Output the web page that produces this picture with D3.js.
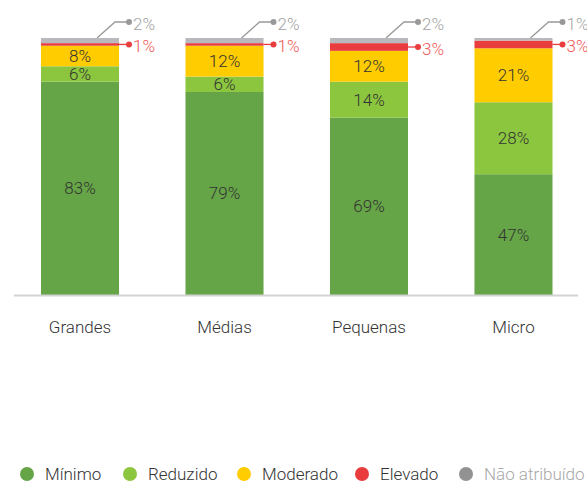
<!DOCTYPE html>
<html><head><meta charset="utf-8">
<script src="https://cdn.jsdelivr.net/npm/d3@7/dist/d3.min.js"></script>
<style>body{margin:0;background:#fff}text{font-family:Roboto,"Noto Sans",sans-serif;font-weight:300}</style>
</head><body><svg id="c" width="587" height="481"></svg>
<script>
const categories = ["Grandes","Médias","Pequenas","Micro"];
const seriesNames = ["Mínimo","Reduzido","Moderado","Elevado","Não atribuído"];
const minimo = [83,79,69,47];
const reduzido = [6,6,14,28];
const moderado = [8,12,12,21];
const elevado = [1,1,3,3];
const naoAtribuido = [2,2,2,1];

const colors = ["#66a547","#8cc63f","#ffcc00","#e93d3d","#b9b9bd"];
const legendColors = ["#66a547","#8cc63f","#ffcc00","#e93d3d","#929292"];

const svg = d3.select("#c");
const x = d3.scaleBand().domain(categories).range([41,552.5]).paddingInner(0.46).paddingOuter(0);
const y = d3.scaleLinear().domain([0,100]).range([295,38]);

const rows = categories.map((c,i)=>({cat:c, "Mínimo":minimo[i],"Reduzido":reduzido[i],"Moderado":moderado[i],"Elevado":elevado[i],"Não atribuído":naoAtribuido[i]}));
const stack = d3.stack().keys(seriesNames)(rows);

stack.forEach((s,si)=>{
  svg.append("g").selectAll("rect").data(s).join("rect")
    .attr("x",d=>x(d.data.cat)).attr("width",x.bandwidth())
    .attr("y",d=>y(d[1])).attr("height",d=>y(d[0])-y(d[1]))
    .attr("fill",colors[si]);
});

stack.slice(0,3).forEach(s=>{
  svg.append("g").selectAll("text").data(s).join("text")
    .attr("x",d=>x(d.data.cat)+x.bandwidth()/2)
    .attr("y",d=>(y(d[0])+y(d[1]))/2)
    .attr("dy","0.35em").attr("text-anchor","middle")
    .attr("font-size",17).attr("fill","#333")
    .text(d=>(d[1]-d[0])+"%");
});

svg.append("line").attr("x1",14).attr("x2",578).attr("y1",295.5).attr("y2",295.5)
  .attr("stroke","#d3d3d3").attr("stroke-width",2);

const ax = svg.append("g").attr("transform","translate(0,296)").call(d3.axisBottom(x).tickSize(0).tickPadding(25));
ax.select(".domain").remove();
ax.selectAll("text").attr("font-size",17).attr("fill","#333").attr("font-family","Roboto,'Noto Sans',sans-serif").attr("font-weight",300);

const red = stack[3], gray = stack[4];
categories.forEach((c,i)=>{
  const r = x(c)+x.bandwidth();
  const gTop = y(gray[i][1]);
  svg.append("polyline").attr("points",`${r-22},${gTop} ${r-4},22 ${r+10},22`)
    .attr("fill","none").attr("stroke","#999").attr("stroke-width",1.3);
  svg.append("circle").attr("cx",r+10).attr("cy",22).attr("r",3).attr("fill","#999");
  svg.append("text").attr("x",r+14).attr("y",24).attr("dy","0.35em").attr("font-size",17)
    .attr("fill","#a3a3a3").text(naoAtribuido[i]+"%");
  const rm = (y(red[i][0])+y(red[i][1]))/2;
  svg.append("line").attr("x1",r).attr("x2",r+10).attr("y1",rm).attr("y2",rm)
    .attr("stroke","#e93d3d").attr("stroke-width",1.3);
  svg.append("circle").attr("cx",r+10).attr("cy",rm).attr("r",3).attr("fill","#e93d3d");
  svg.append("text").attr("x",r+14).attr("y",rm+2).attr("dy","0.35em").attr("font-size",17)
    .attr("fill","#ef5a5a").text(elevado[i]+"%");
});

const lx = [27,130,244,362,466];
seriesNames.forEach((n,i)=>{
  svg.append("circle").attr("cx",lx[i]).attr("cy",474).attr("r",7).attr("fill",legendColors[i]);
  svg.append("text").attr("x",lx[i]+18).attr("y",474).attr("dy","0.35em").attr("font-size",17)
    .attr("fill",i==4?"#a8a8a8":"#333").text(n);
});
</script></body></html>
